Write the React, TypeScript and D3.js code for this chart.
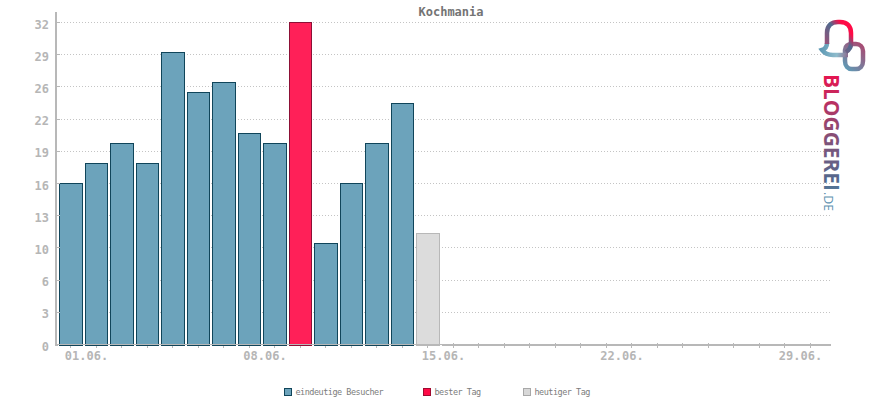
import React from "react";
import * as d3 from "d3";

const days = d3.range(1, 31);
const visits = [16, 18, 20, 18, 29, 25, 26, 21, 20, 32, 10, 16, 20, 24, 11];
const bestIndex = 9;
const todayIndex = 14;
const yTickLabels = ["0", "3", "6", "10", "13", "16", "19", "22", "26", "29", "32"];
const xLabelDays = [1, 8, 15, 22, 29];
const legendLabels = ["eindeutige Besucher", "bester Tag", "heutiger Tag"];
const title = "Kochmania";

const W = 870, H = 400;
const mono = "'DejaVu Sans Mono', monospace";

export default function App() {
  const x = d3.scaleBand<number>().domain(days).range([58, 822.5]).paddingInner(2.5 / 25.5).paddingOuter(1 / 25.5);
  const y = d3.scaleLinear().domain([0, 32]).range([344, 22]);
  const gridVals = yTickLabels.map((_, i) => i * 3.2);
  const style = (i: number) =>
    i === bestIndex ? { fill: "#ff2058", stroke: "#8c0f35" } :
    i === todayIndex ? { fill: "#dcdcdc", stroke: "#b8b8b8" } :
    { fill: "#6ca3bb", stroke: "#10455a" };
  const legendX = [284, 423, 523];
  const legendFill = ["#6ca3bb", "#ff0a46", "#d8d8d8"];
  const legendStroke = ["#10455a", "#a00a30", "#a8a8a8"];
  const snap = (n: number) => Math.round(n * 1000) / 1000;
  return (
    <svg width={W} height={H} style={{ position: "absolute", left: 0, top: 0 }}>
      <defs>
        <linearGradient id="txt" gradientUnits="userSpaceOnUse" x1="0" y1="0" x2="137" y2="0">
          <stop offset="0" stopColor="#e8134f" />
          <stop offset="0.4" stopColor="#8f4a72" />
          <stop offset="0.8" stopColor="#4f6b8f" />
          <stop offset="1" stopColor="#6ca3bb" />
        </linearGradient>
        <linearGradient id="ringA" gradientUnits="userSpaceOnUse" x1="825" y1="48" x2="852" y2="24">
          <stop offset="0" stopColor="#a84a72" />
          <stop offset="0.55" stopColor="#4f6b8f" />
          <stop offset="0.8" stopColor="#ff0a46" />
          <stop offset="1" stopColor="#ff0a46" />
        </linearGradient>
        <linearGradient id="band" gradientUnits="userSpaceOnUse" x1="821" y1="50" x2="848" y2="55">
          <stop offset="0" stopColor="#5f9ab5" />
          <stop offset="0.6" stopColor="#8fbccc" />
          <stop offset="1" stopColor="#8a6d90" />
        </linearGradient>
        <linearGradient id="ringB" gradientUnits="userSpaceOnUse" x1="845" y1="68" x2="864" y2="46">
          <stop offset="0" stopColor="#5f9ab5" />
          <stop offset="1" stopColor="#a84a72" />
        </linearGradient>
      </defs>

      {gridVals.slice(1).map((v) => (
        <line key={v} x1={58} x2={830} y1={Math.round(y(v)) + 0.5} y2={Math.round(y(v)) + 0.5}
          stroke="#c4c4c4" strokeDasharray="1 2" shapeRendering="crispEdges" />
      ))}

      {visits.map((v, i) => {
        const left = snap(x(days[i])!);
        const bx = Math.ceil(left);
        const right = Math.floor(left + x.bandwidth() + 0.001);
        const top = Math.round(y(v));
        return (
          <rect key={i} x={bx + 0.5} y={top + 0.5} width={right - bx} height={345 - top}
            {...style(i)} strokeWidth={1} shapeRendering="crispEdges" />
        );
      })}

      <line x1={56} x2={56} y1={12} y2={346} stroke="#b8b8b8" strokeWidth={2} shapeRendering="crispEdges" />
      <line x1={55} x2={831} y1={344.5} y2={344.5} stroke="#b8b8b8" strokeWidth={1} shapeRendering="crispEdges" />
      <line x1={Math.round(x(todayIndex + 2)!)} x2={831} y1={345.5} y2={345.5} stroke="#b8b8b8" strokeWidth={1} shapeRendering="crispEdges" />
      <line x1={55} x2={58} y1={345.5} y2={345.5} stroke="#b8b8b8" strokeWidth={1} shapeRendering="crispEdges" />

      {days.map((d) => {
        const c = Math.floor(snap(x(d)! + x.bandwidth() / 2)) + 0.5;
        return <line key={d} x1={c} x2={c} y1={d <= 15 ? 346 : 343} y2={348} stroke="#b8b8b8" shapeRendering="crispEdges" />;
      })}

      {gridVals.map((v, i) => (
        <g key={i}>
          <line x1={57} x2={60} y1={Math.round(y(v)) + 0.5} y2={Math.round(y(v)) + 0.5} stroke="#b8b8b8" shapeRendering="crispEdges" />
          <text x={49} y={y(v) + 6.5} textAnchor="end" fontFamily={mono} fontWeight="bold" fontSize={12} fill="#b6b6b6">{yTickLabels[i]}</text>
        </g>
      ))}

      {xLabelDays.map((d) => (
        <text key={d} x={x(d)! + x.bandwidth() / 2 + 16} y={360} textAnchor="middle" fontFamily={mono} fontWeight="bold" fontSize={12} fill="#b6b6b6">
          {String(d).padStart(2, "0")}.06.
        </text>
      ))}

      <text x={451} y={16} textAnchor="middle" fontFamily={mono} fontWeight="bold" fontSize={12} fill="#747474">{title}</text>

      {legendLabels.map((l, i) => (
        <g key={l}>
          <rect x={legendX[i] + 0.5} y={388.5} width={7} height={7} fill={legendFill[i]} stroke={legendStroke[i]} shapeRendering="crispEdges" />
          <text x={legendX[i] + 11.5} y={395} fontFamily={mono} fontSize={8.5} letterSpacing={-0.5} fill="#7c7c7c">{l}</text>
        </g>
      ))}

      <g fill="none" strokeWidth={4.5}>
        <path d="M845 54 L845 50 C845 46 848 44 852 44 L856 44 C860 44 863 47 863 51 L863 61 C863 66 860 69 856 69 L852 69 C848 69 845 66 845 61 L845 54" stroke="url(#ringB)" />
        <path d="M827 43 C827 47 825 49 822 50 C825 54 828 55 833 55 L848 55" stroke="url(#band)" />
        <path d="M827 44 L827 33 C827 25 832 22 838 22 L840 22 C848 22 851 27 851 33 L851 44 C851 48 849 50 846 52" stroke="url(#ringA)" />
      </g>
      <text transform="translate(824,74) rotate(90)" fontFamily="'Open Sans', sans-serif" fontWeight="700" fontSize={21} fill="url(#txt)" textLength={117} lengthAdjust="spacingAndGlyphs">BLOGGEREI</text>
      <text transform="translate(824,192) rotate(90)" fontFamily="'Open Sans', sans-serif" fontSize={12} fill="#5f92b0" textLength={19} lengthAdjust="spacingAndGlyphs">.DE</text>
    </svg>
  );
}
